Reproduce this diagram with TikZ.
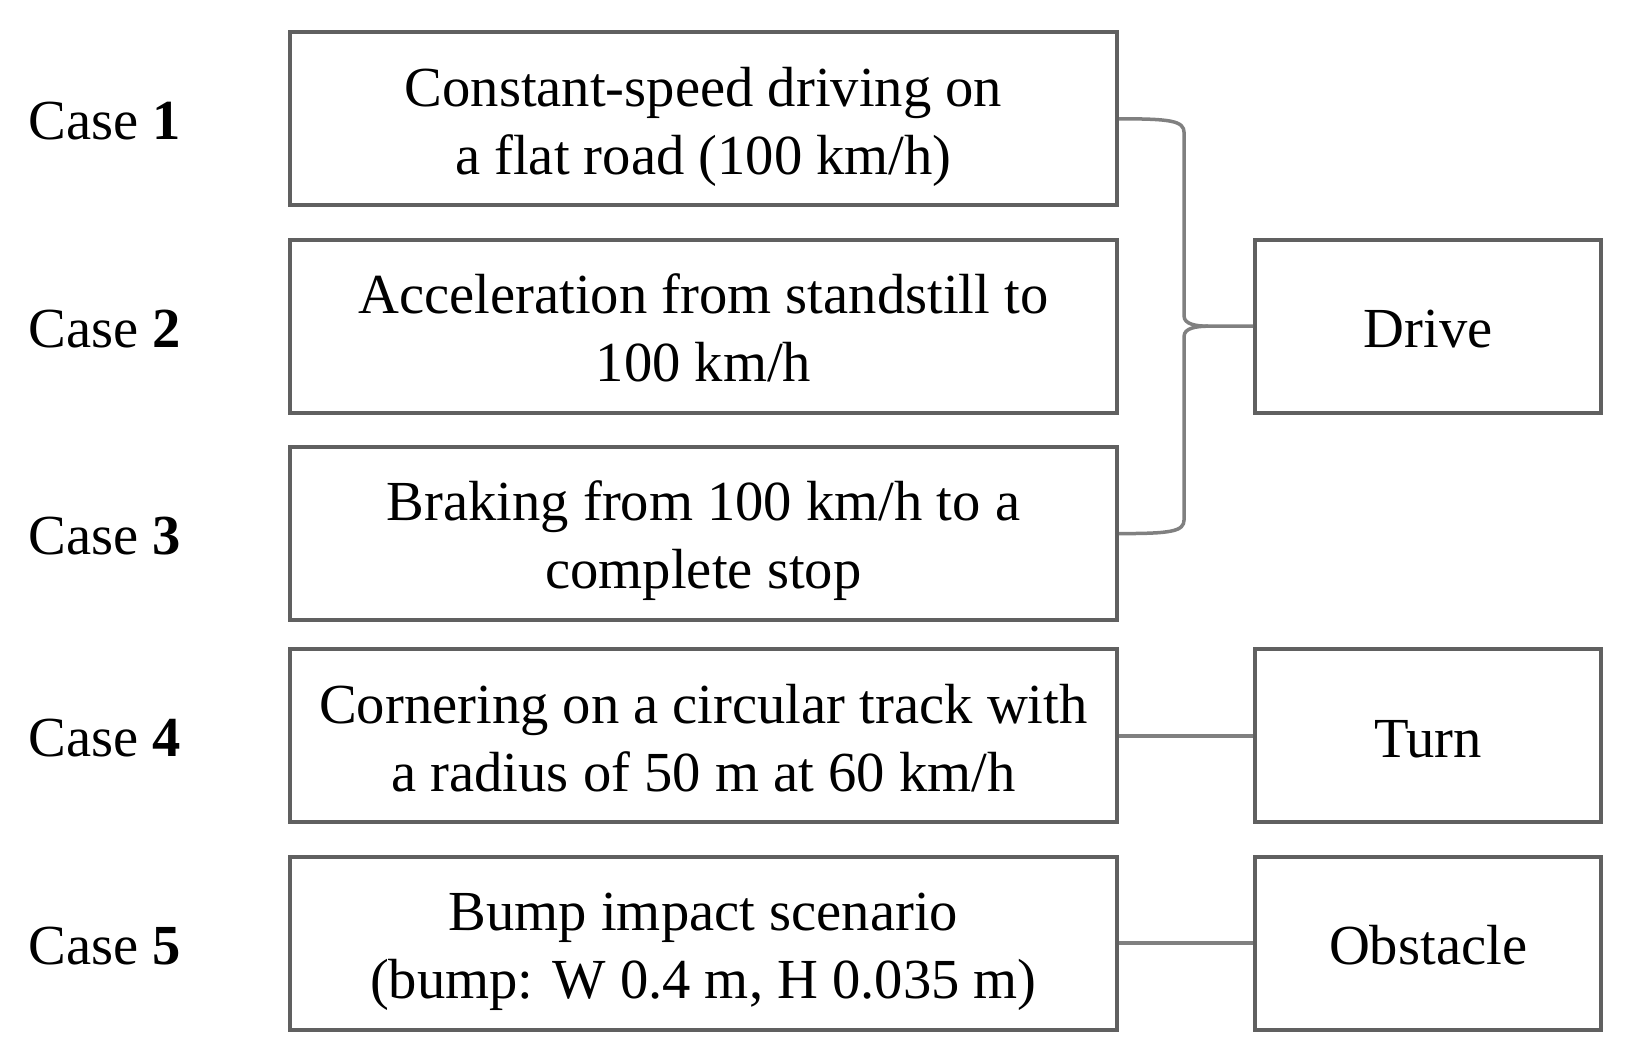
\documentclass[tikz,border=0pt]{standalone}
\usepackage{fontspec}
\setmainfont{Liberation Serif}
\usetikzlibrary{positioning}
\definecolor{boxgray}{RGB}{96,96,96}
\definecolor{linkgray}{RGB}{128,128,128}
\tikzset{
  casebox/.style={draw=boxgray,line width=2pt,align=center,minimum width=413.7pt,minimum height=86.5pt,inner sep=2pt,text height=55.3pt,text depth=0pt,font=\fontsize{28.3pt}{34pt}\selectfont},
  groupbox/.style={draw=boxgray,line width=2pt,align=center,minimum width=173pt,minimum height=86.5pt,inner sep=2pt,text height=21.3pt,text depth=0pt,font=\fontsize{28.3pt}{34pt}\selectfont},
  caselabel/.style={inner sep=0pt,text height=21pt,text depth=0pt,font=\fontsize{28.3pt}{34pt}\selectfont},
  bracket/.style={draw=linkgray,line width=1.75pt},
  linkline/.style={draw=linkgray,line width=2pt}
}

\begin{document}
\begin{tikzpicture}[node distance=15.2pt and 67pt]
  \useasboundingbox (0,0) rectangle (817pt,-531.5pt);
  \node[casebox,anchor=north west] (c1) at (143.85pt,-15.15pt) {Constant-speed driving on\\a flat road (100 km/h)};
  \node[casebox,below=of c1] (c2) {Acceleration from standstill to\\100 km/h};
  \node[casebox,below=of c2] (c3) {Braking from 100 km/h to a\\complete stop};
  \node[casebox,below=12.6pt of c3] (c4) {Cornering on a circular track with\\a radius of 50 m at 60 km/h};
  \node[casebox,below=of c4] (c5) {Bump impact scenario\\(bump: W 0.4 m, H 0.035 m)};
  % groups on the right
  \node[groupbox,right=of c2] (drive) {Drive};
  \node[groupbox,right=of c4] (turn) {Turn};
  \node[groupbox,right=of c5] (obstacle) {Obstacle};
  % case labels
  \node[caselabel,left=53pt of c1] (l1) {Case \textbf{1}};
  \node[caselabel,left=53pt of c2] (l2) {Case \textbf{2}};
  \node[caselabel,left=53pt of c3] (l3) {Case \textbf{3}};
  \node[caselabel,left=53pt of c4] (l4) {Case \textbf{4}};
  \node[caselabel,left=53pt of c5] (l5) {Case \textbf{5}};
  % brace into Drive
  \coordinate (bx) at ([xshift=-34.5pt]drive.west);
  \draw[bracket] (c1.east) .. controls +(26pt,0) and +(0,6pt) .. ([yshift=-7pt]bx |- c1.east) -- ([yshift=5pt]bx) .. controls +(0,-4pt) and +(-6pt,0) .. ([xshift=12pt]bx) -- (drive.west);
  \draw[bracket] (c3.east) .. controls +(26pt,0) and +(0,-6pt) .. ([yshift=7pt]bx |- c3.east) -- ([yshift=-5pt]bx) .. controls +(0,4pt) and +(-6pt,0) .. ([xshift=12pt]bx);
  \draw[linkline] (c4) -- (turn);
  \draw[linkline] (c5) -- (obstacle);
\end{tikzpicture}
\end{document}
